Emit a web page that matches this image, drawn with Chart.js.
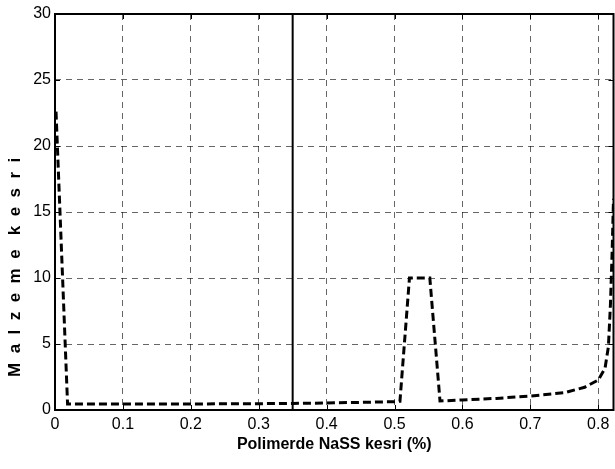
<!DOCTYPE html>
<html>
<head>
<meta charset="utf-8">
<script src="https://cdn.jsdelivr.net/npm/chart.js@4.4.1/dist/chart.umd.min.js"></script>
<style>
html,body{margin:0;padding:0;background:#fff;}
#wrap{width:615px;height:469px;position:relative;}
</style>
</head>
<body>
<div id="wrap"><canvas id="c" width="615" height="469"></canvas></div>
<script>
// Data
const nassFraction = [0.0015, 0.0185, 0.05, 0.1, 0.15, 0.2, 0.25, 0.3, 0.35, 0.4, 0.45, 0.5, 0.508, 0.522, 0.552, 0.567, 0.6, 0.65, 0.7, 0.75, 0.78, 0.8, 0.81, 0.815, 0.818, 0.8205, 0.8225];
const materialFraction = [22.6, 0.45, 0.45, 0.45, 0.45, 0.45, 0.47, 0.48, 0.5, 0.53, 0.58, 0.63, 0.66, 10, 10, 0.68, 0.76, 0.88, 1.06, 1.31, 1.72, 2.27, 3.16, 4.8, 8.0, 12.0, 16.0];
const markerX = [0.35, 0.35];
const markerY = [0, 30];
const xTicks = [0, 0.1, 0.2, 0.3, 0.4, 0.5, 0.6, 0.7, 0.8];
const yTicks = [0, 5, 10, 15, 20, 25, 30];
const xTitle = 'Polimerde NaSS kesri (%)';
const yTitle = '       M  a  l  z  e  m  e   k  e  s  r  i';

const FAM = "'Liberation Sans', Arial, sans-serif";

const curve = nassFraction.map((x, i) => ({x: x, y: materialFraction[i]}));
const marker = markerX.map((x, i) => ({x: x, y: markerY[i]}));

const boxPlugin = {
  id: 'boxTicks',
  afterDraw(chart) {
    const ctx = chart.ctx;
    const a = chart.chartArea;
    const xs = chart.scales.x, ys = chart.scales.y;
    ctx.save();
    ctx.strokeStyle = '#000';
    ctx.lineWidth = 1;
    ctx.beginPath();
    xTicks.forEach(v => {
      const px = Math.round(xs.getPixelForValue(v)) + 0.5;
      ctx.moveTo(px, a.bottom); ctx.lineTo(px, a.bottom - 5);
      ctx.moveTo(px, a.top); ctx.lineTo(px, a.top + 5);
    });
    yTicks.forEach(v => {
      const py = Math.round(ys.getPixelForValue(v)) + 0.5;
      ctx.moveTo(a.left, py); ctx.lineTo(a.left + 5, py);
      ctx.moveTo(a.right, py); ctx.lineTo(a.right - 5, py);
    });
    ctx.stroke();
    ctx.lineWidth = 2;
    ctx.strokeRect(a.left, a.top, a.right - a.left, a.bottom - a.top);
    ctx.restore();
  }
};

new Chart(document.getElementById('c'), {
  type: 'line',
  data: {
    datasets: [
      {
        data: curve,
        borderColor: '#000',
        borderWidth: 3,
        borderDash: [8, 4],
        pointRadius: 0,
        tension: 0,
        fill: false
      },
      {
        data: marker,
        borderColor: '#000',
        borderWidth: 2,
        pointRadius: 0,
        tension: 0,
        fill: false
      }
    ]
  },
  options: {
    responsive: false,
    animation: false,
    devicePixelRatio: 1,
    layout: {padding: {top: 14, right: 1.5, left: 0, bottom: 0}},
    plugins: {legend: {display: false}, tooltip: {enabled: false}},
    scales: {
      x: {
        type: 'linear',
        min: 0,
        max: 0.8225,
        afterFit(s) { s.height = 59; },
        afterBuildTicks(s) { s.ticks = xTicks.map(v => ({value: v})); },
        ticks: {
          color: '#000',
          padding: 5,
          maxRotation: 0,
          autoSkip: false,
          font: {family: FAM, size: 16},
          callback: v => String(v)
        },
        grid: {
          color: 'rgba(0,0,0,0.6)',
          lineWidth: 1,
          drawTicks: false
        },
        border: {display: false, dash: [6, 5]},
        title: {
          display: true,
          text: xTitle,
          color: '#000',
          font: {family: FAM, size: 16, weight: 'bold'},
          padding: {top: 0, bottom: 15}
        }
      },
      y: {
        type: 'linear',
        min: 0,
        max: 30,
        afterFit(s) { s.width = 55; },
        afterBuildTicks(s) { s.ticks = yTicks.map(v => ({value: v})); },
        ticks: {
          color: '#000',
          padding: 4,
          font: {family: FAM, size: 16},
          callback: v => String(v)
        },
        grid: {
          color: 'rgba(0,0,0,0.6)',
          lineWidth: 1,
          drawTicks: false
        },
        border: {display: false, dash: [6, 5]},
        title: {
          display: true,
          text: yTitle,
          align: 'start',
          color: '#000',
          font: {family: FAM, size: 17, weight: 'bold'},
          padding: {top: 5, bottom: 0}
        }
      }
    }
  },
  plugins: [boxPlugin]
});
</script>
</body>
</html>
